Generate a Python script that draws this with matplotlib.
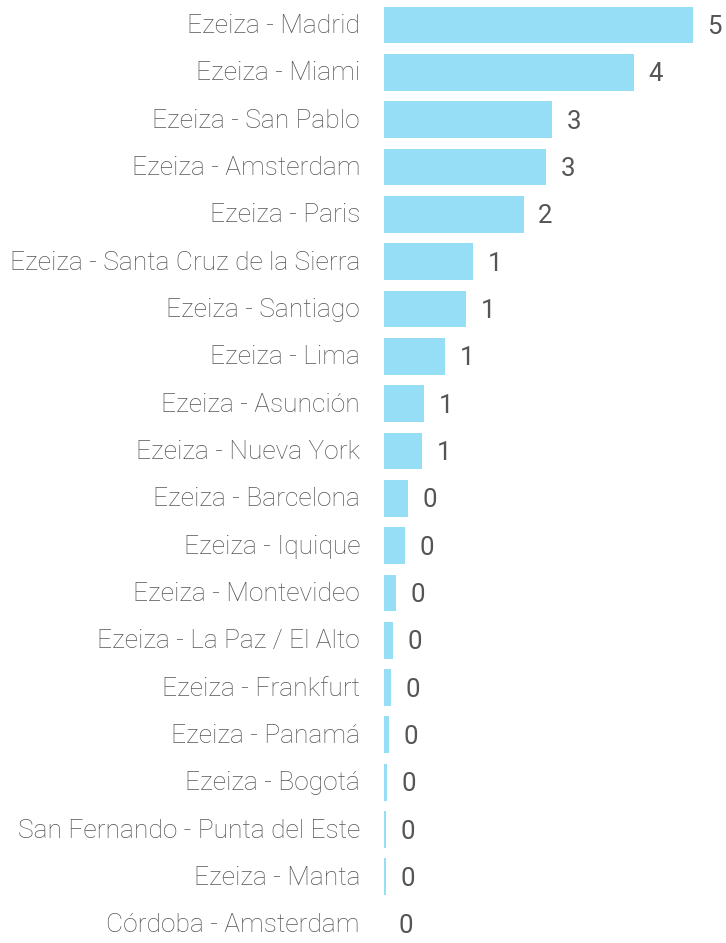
import matplotlib
matplotlib.use("Agg")
import matplotlib.pyplot as plt

routes = [
    "Ezeiza - Madrid", "Ezeiza - Miami", "Ezeiza - San Pablo", "Ezeiza - Amsterdam",
    "Ezeiza - Paris", "Ezeiza - Santa Cruz de la Sierra", "Ezeiza - Santiago",
    "Ezeiza - Lima", "Ezeiza - Asunción", "Ezeiza - Nueva York", "Ezeiza - Barcelona",
    "Ezeiza - Iquique", "Ezeiza - Montevideo", "Ezeiza - La Paz / El Alto",
    "Ezeiza - Frankfurt", "Ezeiza - Panamá", "Ezeiza - Bogotá",
    "San Fernando - Punta del Este", "Ezeiza - Manta", "Córdoba - Amsterdam",
]
values = [4.98, 4.03, 2.71, 2.62, 2.25, 1.44, 1.32, 0.98, 0.65, 0.62,
          0.39, 0.34, 0.19, 0.14, 0.11, 0.08, 0.05, 0.03, 0.03, 0.0]

W, H = 726, 943
fig = plt.figure(figsize=(W / 100, H / 100), dpi=100)
ax = fig.add_axes([384 / W, 0, 1 - 384 / W, 1])

pitch = 47.33
n = len(routes)
ypos = list(range(n))
ax.barh(ypos, values, height=0.78, color="#96DDF6", edgecolor="none")
ax.set_xlim(0, (W - 384) / 62.0)
ax.set_ylim((H - 25) / pitch, -25 / pitch)
ax.axis("off")

for y, name, v in zip(ypos, routes, values):
    ax.annotate(name, xy=(0, y), xytext=(-24, -1), textcoords="offset pixels",
                ha="right", va="center", fontsize=19, family="Roboto",
                fontweight="light", color="#555555")
    ax.annotate(f"{v:.0f}", xy=(v, y), xytext=(22, -2), textcoords="offset pixels",
                ha="center", va="center", fontsize=18.5, family="Roboto",
                color="#555555")

fig.savefig("out.png", dpi=100)
